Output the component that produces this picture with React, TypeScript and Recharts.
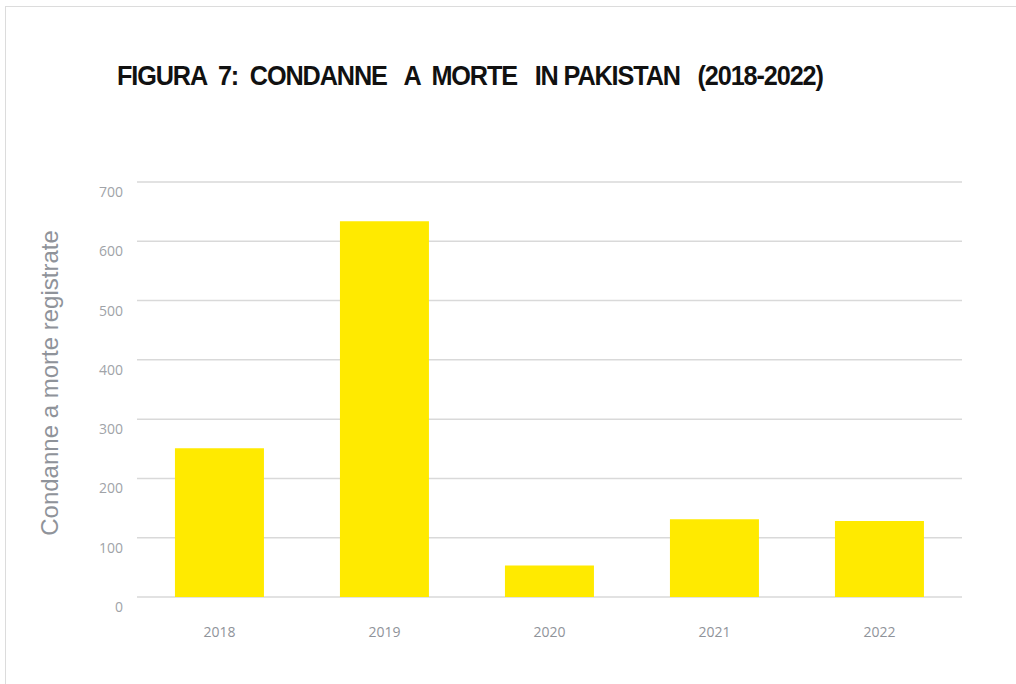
import { BarChart, Bar, XAxis, YAxis, CartesianGrid } from 'recharts';

const years = ['2018', '2019', '2020', '2021', '2022'];
const sentences = [251, 634, 53, 131, 128];
const yTicks = [0, 100, 200, 300, 400, 500, 600, 700];

const chartData = years.map((year, i) => ({ year, value: sentences[i] }));

const GRAY = '#8f939a';

export default function App() {
  return (
    <div
      style={{
        position: 'absolute',
        left: 0,
        top: 0,
        width: 1016,
        height: 684,
        overflow: 'hidden',
        background: '#fff',
      }}
    >
      {/* frame */}
      <div
        style={{
          position: 'absolute',
          left: 5,
          top: 6,
          width: 1030,
          height: 700,
          border: '1.5px solid #dcdcdc',
        }}
      />
      <div
        style={{
          position: 'absolute',
          left: 117,
          top: 61,
          fontFamily: '"Liberation Sans", Arial, sans-serif',
          fontWeight: 'bold',
          fontSize: 27,
          letterSpacing: -1.2,
          whiteSpace: 'pre',
          color: '#111',
          transform: 'scaleX(0.935)',
          transformOrigin: 'left center',
        }}
      >
        {'FIGURA  7:  CONDANNE   A  MORTE   IN PAKISTAN   (2018-2022)'}
      </div>
      <div
        style={{
          position: 'absolute',
          left: 50,
          top: 383,
          transform: 'translate(-50%, -50%) rotate(-90deg)',
          fontFamily: '"Liberation Sans", Arial, sans-serif',
          fontSize: 24,
          color: GRAY,
          whiteSpace: 'nowrap',
        }}
      >
        Condanne a morte registrate
      </div>
      <div style={{ position: 'absolute', left: 0, top: 0 }}>
        <BarChart
          width={1016}
          height={684}
          data={chartData}
          margin={{ top: 182, right: 54, bottom: 47, left: 97 }}
          barCategoryGap="23%"
        >
          <CartesianGrid vertical={false} stroke="#d9d9d9" strokeWidth={1.5} />
          <XAxis
            dataKey="year"
            height={40}
            axisLine={false}
            tickLine={false}
            tickMargin={24}
            tick={{ fill: GRAY, fontSize: 14, fontFamily: '"Open Sans", sans-serif' }}
          />
          <YAxis
            width={40}
            domain={[0, 700]}
            ticks={yTicks}
            axisLine={false}
            tickLine={false}
            tickMargin={8}
            tick={{ fill: '#a0a3a8', fontSize: 14, fontFamily: '"Open Sans", sans-serif', dy: 10 }}
          />
          <Bar dataKey="value" fill="#ffea00" isAnimationActive={false} />
        </BarChart>
      </div>
    </div>
  );
}
